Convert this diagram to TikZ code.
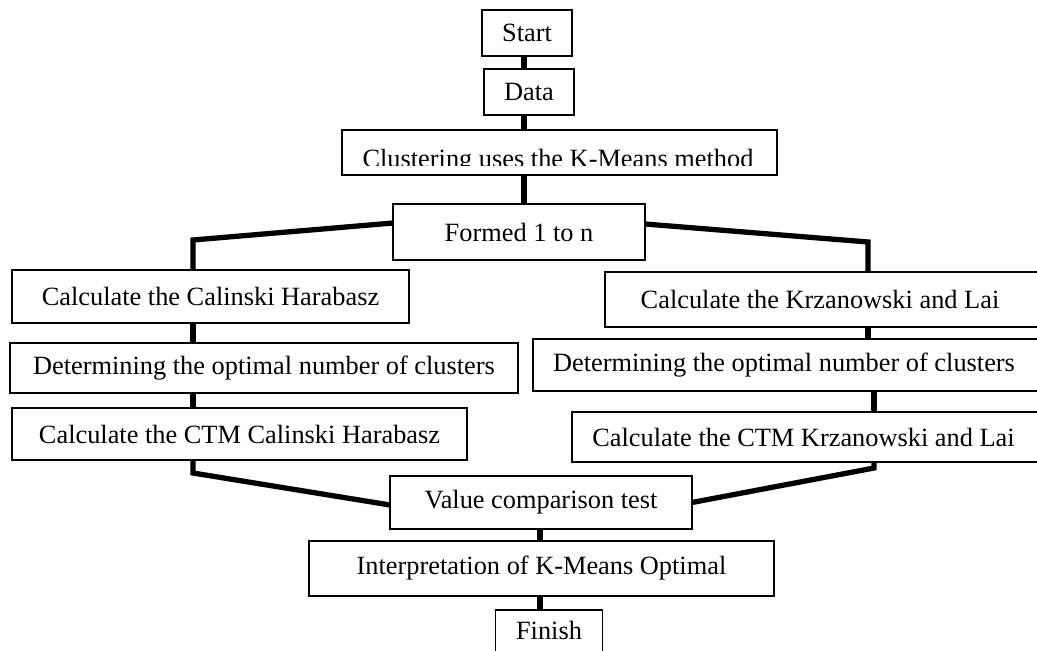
\documentclass[tikz,border=0pt]{standalone}
\usepackage{fontspec}
\setmainfont{Liberation Serif}
\usetikzlibrary{calc}

\begin{document}
\begin{tikzpicture}[x={(0.02cm,0cm)},y={(0cm,-0.02cm)},
  every node/.style={outer sep=0pt, inner sep=0pt, font=\fontsize{15}{18}\selectfont},
  box/.style={draw, line width=0.8pt, fill=white},
  conn/.style={line width=3pt}]
\useasboundingbox (0,0) rectangle (1037,651);
% boxes
\node[box, minimum width=1.8cm, minimum height=0.92cm] (start) at (527,33) {Start};
\node[box, minimum width=1.8cm, minimum height=0.92cm] (data) at (529,92) {Data};
\node[box, minimum width=8.7cm, minimum height=0.9cm] (clust) at (559.5,152.5) {};
\begin{scope}
\clip (342,130) rectangle (777,166);
\node[anchor=base] (clusttext) at (558,168) {Clustering uses the K-Means method};
\end{scope}
\node[box, minimum width=5.04cm, minimum height=1.12cm] (formed) at (519,232) {Formed 1 to n};
\node[box, minimum width=7.94cm, minimum height=1.06cm] (calcCH) at (210.5,296.5) {Calculate the Calinski Harabasz};
\node[box, minimum width=10.16cm, minimum height=1.0cm] (detL) at (264,368) {Determining the optimal number of clusters};
\node[box, minimum width=9.1cm, minimum height=1.04cm] (ctmCH) at (239.5,434) {Calculate the CTM Calinski Harabasz};
\node[box, minimum width=8.8cm, minimum height=1.1cm] (calcKL) at (825,299.5) {};
\node (calcKLtext) at (820,299.5) {Calculate the Krzanowski and Lai};
\node[box, minimum width=10.24cm, minimum height=1.04cm] (detR) at (789,365) {};
\node (detRtext) at (784,365) {Determining the optimal number of clusters};
\node[box, minimum width=9.46cm, minimum height=1.0cm] (ctmKL) at (808.5,437) {};
\node (ctmKLtext) at (803.5,437) {Calculate the CTM Krzanowski and Lai};
\node[box, minimum width=6.04cm, minimum height=1.06cm] (value) at (541,502.5) {Value comparison test};
\node[box, minimum width=9.3cm, minimum height=1.1cm] (interp) at (541.5,568.5) {Interpretation of K-Means Optimal};
\node[box, minimum width=2.14cm, minimum height=1.0cm] (finish) at (549,635) {};
\node (finishtext) at (549,630) {Finish};
% spines and bends
\coordinate (spineT) at (524,0);
\coordinate (spineB) at (540,0);
\coordinate (bendL) at (193,240);
\coordinate (bendR) at (868,242);
\coordinate (bendL2) at (193,473);
\coordinate (bendR2) at (874,468);
% connectors
\draw[conn] (spineT |- start.south) -- (spineT |- data.north);
\draw[conn] (spineT |- data.south) -- (spineT |- clust.north);
\draw[conn] (spineT |- clust.south) -- (spineT |- formed.north);
\draw[conn] ([yshift=0.18cm]formed.west) -- (bendL) -- (bendL |- calcCH.north);
\draw[conn] ([yshift=0.16cm]formed.east) -- (bendR) -- (bendR |- calcKL.north);
\draw[conn] (bendL |- calcCH.south) -- (bendL |- detL.north);
\draw[conn] (bendL |- detL.south) -- (bendL |- ctmCH.north);
\draw[conn] (bendR |- calcKL.south) -- (bendR |- detR.north);
\draw[conn] (bendR2 |- detR.south) -- (bendR2 |- ctmKL.north);
\draw[conn] (bendL2 |- ctmCH.south) -- (bendL2) -- ([yshift=-0.05cm]value.west);
\draw[conn] (bendR2 |- ctmKL.south) -- (bendR2) -- (value.east);
\draw[conn] (spineB |- value.south) -- (spineB |- interp.north);
\draw[conn] (spineB |- interp.south) -- (spineB |- finish.north);
\end{tikzpicture}
\end{document}
